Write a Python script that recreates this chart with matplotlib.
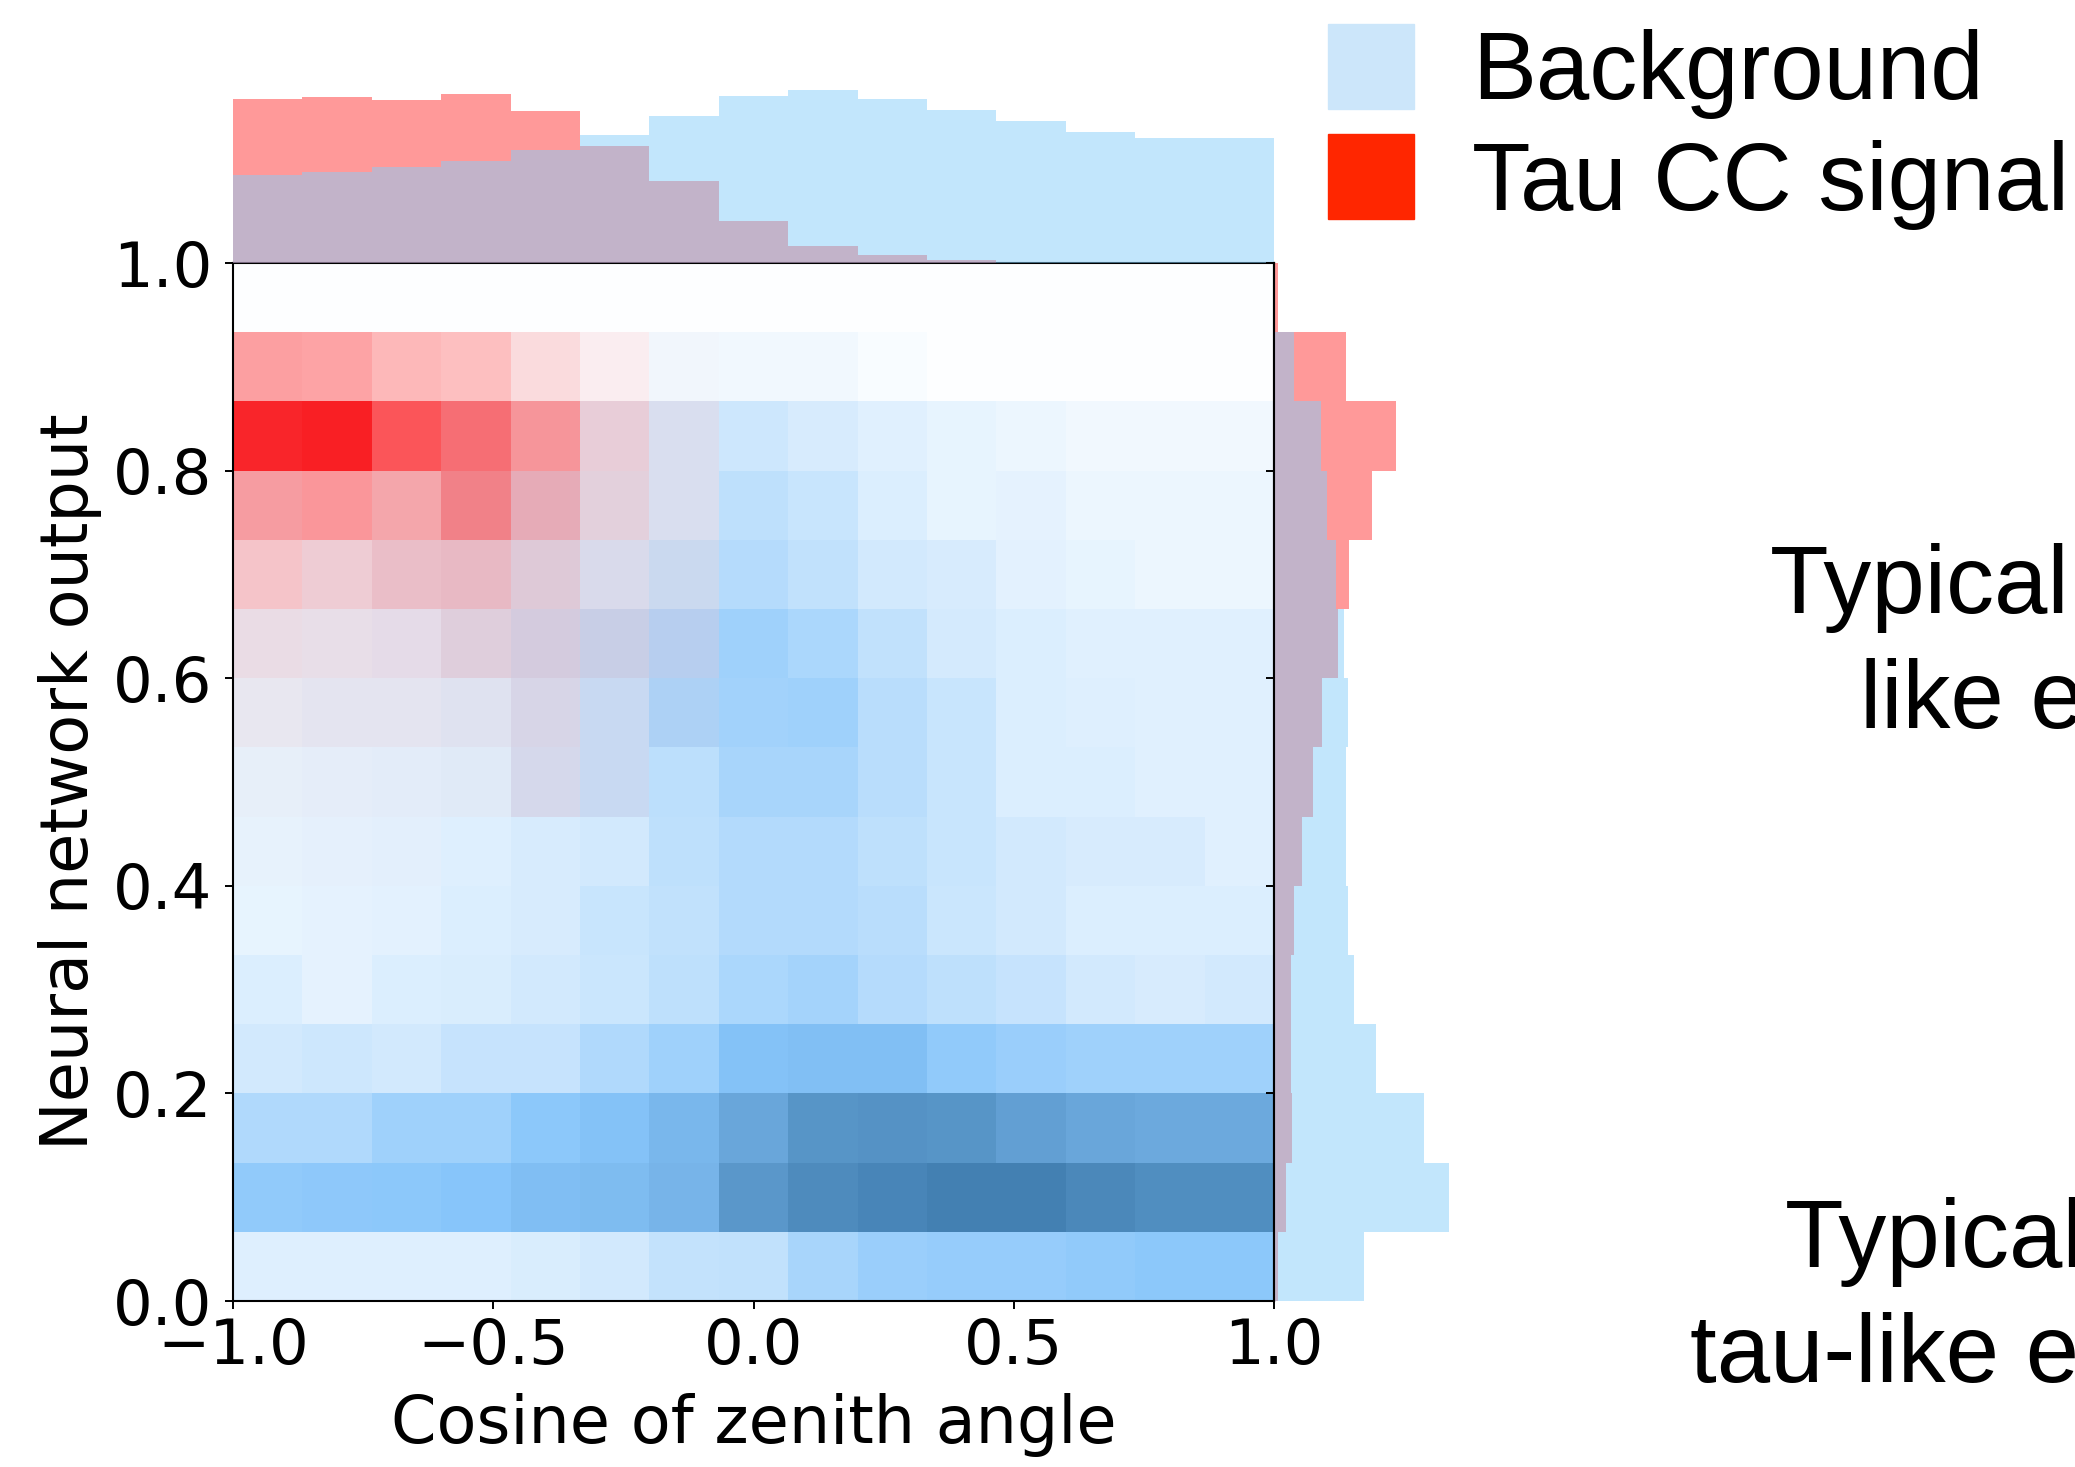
import numpy as np
import matplotlib.pyplot as plt
from matplotlib.colors import LinearSegmentedColormap
from matplotlib.patches import Patch

# bin edges: 15 bins in cos(zenith) and in NN output
x_edges = np.linspace(-1.0, 1.0, 16)
y_edges = np.linspace(0.0, 1.0, 16)

# 2D densities (rows = NN output bins from 0 upwards, columns = cos zenith bins)
bkg_2d = np.array([
    [0.14, 0.14, 0.14, 0.14, 0.16, 0.19, 0.25, 0.26, 0.36, 0.42, 0.44, 0.44, 0.46, 0.48, 0.48],
    [0.46, 0.47, 0.48, 0.50, 0.55, 0.57, 0.62, 0.83, 0.92, 0.96, 1.00, 1.00, 0.94, 0.90, 0.90],
    [0.33, 0.33, 0.40, 0.40, 0.48, 0.52, 0.60, 0.72, 0.85, 0.87, 0.85, 0.77, 0.72, 0.70, 0.70],
    [0.19, 0.21, 0.19, 0.24, 0.24, 0.33, 0.40, 0.52, 0.54, 0.54, 0.46, 0.42, 0.40, 0.40, 0.40],
    [0.15, 0.11, 0.15, 0.16, 0.19, 0.22, 0.27, 0.35, 0.38, 0.31, 0.27, 0.24, 0.19, 0.17, 0.19],
    [0.10, 0.11, 0.12, 0.15, 0.17, 0.23, 0.26, 0.32, 0.32, 0.29, 0.22, 0.19, 0.15, 0.15, 0.15],
    [0.10, 0.11, 0.12, 0.14, 0.17, 0.19, 0.27, 0.32, 0.32, 0.27, 0.23, 0.19, 0.17, 0.17, 0.13],
    [0.10, 0.11, 0.12, 0.13, 0.19, 0.24, 0.28, 0.36, 0.36, 0.29, 0.23, 0.15, 0.15, 0.13, 0.13],
    [0.10, 0.12, 0.12, 0.14, 0.18, 0.24, 0.35, 0.39, 0.40, 0.29, 0.23, 0.15, 0.14, 0.13, 0.13],
    [0.09, 0.10, 0.12, 0.15, 0.20, 0.25, 0.32, 0.40, 0.35, 0.26, 0.18, 0.15, 0.13, 0.13, 0.13],
    [0.05, 0.08, 0.11, 0.12, 0.16, 0.17, 0.23, 0.31, 0.26, 0.19, 0.17, 0.12, 0.10, 0.08, 0.08],
    [0.05, 0.02, 0.06, 0.09, 0.14, 0.13, 0.17, 0.27, 0.23, 0.15, 0.10, 0.11, 0.08, 0.08, 0.08],
    [0.05, 0.05, 0.00, 0.06, 0.05, 0.11, 0.17, 0.21, 0.17, 0.13, 0.10, 0.08, 0.06, 0.06, 0.06],
    [0.00, 0.00, 0.00, 0.00, 0.02, 0.02, 0.06, 0.06, 0.06, 0.03, 0.01, 0.01, 0.01, 0.01, 0.01],
    [0.01, 0.01, 0.01, 0.01, 0.01, 0.01, 0.01, 0.01, 0.01, 0.01, 0.01, 0.01, 0.01, 0.01, 0.01],
])

sig_2d = np.array([
    [0.00, 0.00, 0.00, 0.00, 0.00, 0.00, 0.00, 0.00, 0.00, 0.00, 0.00, 0.00, 0.00, 0.00, 0.00],
    [0.00, 0.00, 0.00, 0.00, 0.00, 0.00, 0.00, 0.00, 0.00, 0.00, 0.00, 0.00, 0.00, 0.00, 0.00],
    [0.00, 0.00, 0.00, 0.00, 0.00, 0.00, 0.00, 0.00, 0.00, 0.00, 0.00, 0.00, 0.00, 0.00, 0.00],
    [0.00, 0.00, 0.00, 0.00, 0.00, 0.00, 0.00, 0.00, 0.00, 0.00, 0.00, 0.00, 0.00, 0.00, 0.00],
    [0.00, 0.00, 0.00, 0.00, 0.00, 0.00, 0.00, 0.00, 0.00, 0.00, 0.00, 0.00, 0.00, 0.00, 0.00],
    [0.00, 0.00, 0.00, 0.00, 0.00, 0.00, 0.00, 0.00, 0.00, 0.00, 0.00, 0.00, 0.00, 0.00, 0.00],
    [0.01, 0.01, 0.01, 0.00, 0.00, 0.00, 0.00, 0.00, 0.00, 0.00, 0.00, 0.00, 0.00, 0.00, 0.00],
    [0.02, 0.02, 0.02, 0.03, 0.08, 0.05, 0.00, 0.00, 0.00, 0.00, 0.00, 0.00, 0.00, 0.00, 0.00],
    [0.06, 0.06, 0.06, 0.06, 0.10, 0.05, 0.03, 0.00, 0.00, 0.00, 0.00, 0.00, 0.00, 0.00, 0.00],
    [0.11, 0.10, 0.10, 0.15, 0.14, 0.10, 0.06, 0.00, 0.00, 0.00, 0.00, 0.00, 0.00, 0.00, 0.00],
    [0.24, 0.19, 0.24, 0.26, 0.17, 0.08, 0.06, 0.00, 0.00, 0.00, 0.00, 0.00, 0.00, 0.00, 0.00],
    [0.42, 0.45, 0.37, 0.53, 0.32, 0.15, 0.06, 0.00, 0.00, 0.00, 0.00, 0.00, 0.00, 0.00, 0.00],
    [0.95, 0.98, 0.74, 0.62, 0.45, 0.17, 0.06, 0.00, 0.00, 0.00, 0.00, 0.00, 0.00, 0.00, 0.00],
    [0.42, 0.40, 0.31, 0.28, 0.15, 0.07, 0.01, 0.00, 0.00, 0.00, 0.00, 0.00, 0.00, 0.00, 0.00],
    [0.00, 0.00, 0.00, 0.00, 0.00, 0.00, 0.00, 0.00, 0.00, 0.00, 0.00, 0.00, 0.00, 0.00, 0.00],
])

# marginal distributions
bkg_cos = [0.336, 0.347, 0.366, 0.389, 0.431, 0.489, 0.561, 0.637, 0.660, 0.626, 0.584, 0.542, 0.500, 0.477, 0.477]
sig_cos = [0.626, 0.634, 0.622, 0.645, 0.580, 0.447, 0.313, 0.160, 0.065, 0.031, 0.011, 0.0, 0.0, 0.0, 0.0]
bkg_nn = [1.18, 2.30, 1.97, 1.34, 1.05, 0.97, 0.94, 0.94, 0.97, 0.92, 0.81, 0.70, 0.62, 0.26, 0.0]
sig_nn = [0.05, 0.16, 0.24, 0.22, 0.22, 0.26, 0.37, 0.51, 0.63, 0.84, 0.98, 1.29, 1.60, 0.94, 0.05]

x_ticks = [-1.0, -0.5, 0.0, 0.5, 1.0]
y_ticks = [0.0, 0.2, 0.4, 0.6, 0.8, 1.0]

W, H = 2075, 1467
fig = plt.figure(figsize=(W / 100, H / 100), dpi=100)

# axes positions (pixels -> figure fraction)
left, right, top, bottom = 233, 1274, 263, 1301
ax = fig.add_axes([left / W, 1 - bottom / H, (right - left) / W, (bottom - top) / H])
ax_top = fig.add_axes([left / W, 1 - top / H, (right - left) / W, 200 / H], sharex=ax)
ax_right = fig.add_axes([right / W, 1 - bottom / H, 200 / W, (bottom - top) / H], sharey=ax)

bkg_cmap = LinearSegmentedColormap.from_list('bkg', [(0.0, '#ffffff'), (0.5, '#87c5fa'), (1.0, '#4380b2')])
sig_cmap = LinearSegmentedColormap.from_list('sig', [(0.0, (0.98, 0.1, 0.12, 0.0)), (1.0, (0.98, 0.1, 0.12, 1.0))])

ax.pcolormesh(x_edges, y_edges, bkg_2d, cmap=bkg_cmap, vmin=0, vmax=1, shading='flat',
              edgecolors='none', antialiased=False)
ax.pcolormesh(x_edges, y_edges, sig_2d, cmap=sig_cmap, vmin=0, vmax=1, shading='flat',
              edgecolors='none', antialiased=False)

ax.set_xlim(-1, 1)
ax.set_ylim(0, 1)
ax.set_xticks(x_ticks)
ax.set_yticks(y_ticks)
ax.tick_params(axis='both', labelsize=45, length=5.8, width=1.4, direction='out')
ax.tick_params(axis='x', pad=5.5)
ax.tick_params(axis='y', pad=9)
for sp in ax.spines.values():
    sp.set_linewidth(1.5)
ax.set_xlabel('Cosine of zenith angle', fontsize=47, labelpad=12)
ax.set_ylabel('Neural network output', fontsize=47, labelpad=8)

# top marginal: cos zenith
ax_top.stairs(sig_cos, x_edges, fill=True, color='red', alpha=0.4, linewidth=0)
ax_top.stairs(bkg_cos, x_edges, fill=True, color='lightskyblue', alpha=0.5, linewidth=0)
ax_top.set_ylim(0, 200 * 0.003817)
ax_top.axis('off')

# right marginal: NN output
ax_right.stairs(sig_nn, y_edges, orientation='horizontal', fill=True, color='red', alpha=0.4, linewidth=0)
ax_right.stairs(bkg_nn, y_edges, orientation='horizontal', fill=True, color='lightskyblue', alpha=0.5, linewidth=0)
ax_right.set_xlim(0, 200 * 0.01312)
for s in ['top', 'right', 'bottom']:
    ax_right.spines[s].set_visible(False)
ax_right.spines['left'].set_linewidth(1.5)
ax_right.tick_params(axis='y', labelleft=False, length=5.8, width=1.4, direction='out')
ax_right.tick_params(axis='x', bottom=False, labelbottom=False)
ax_right.patch.set_alpha(0)

# legend
handles = [Patch(color='#cce6fa', label='Background'), Patch(color='#ff2600', label='Tau CC signal')]
fig.legend(handles=handles, loc='upper left', bbox_to_anchor=(1328 / W, 1 - 24 / H), frameon=False,
           borderpad=0, borderaxespad=0, handlelength=0.9, handleheight=0.98, handletextpad=0.6,
           labelspacing=0.16, prop={'family': 'Liberation Sans', 'size': 69})

# annotations on the right
txt = dict(fontsize=69, family='Liberation Sans', ha='left', va='baseline')
fig.text(1770 / W, 1 - 613 / H, 'Typical tau-', **txt)
fig.text(1860 / W, 1 - 728 / H, 'like events', **txt)
fig.text(1785 / W, 1 - 1267 / H, 'Typical non-', **txt)
fig.text(1690 / W, 1 - 1382 / H, 'tau-like events', **txt)

plt.savefig('out.png', dpi=100)
